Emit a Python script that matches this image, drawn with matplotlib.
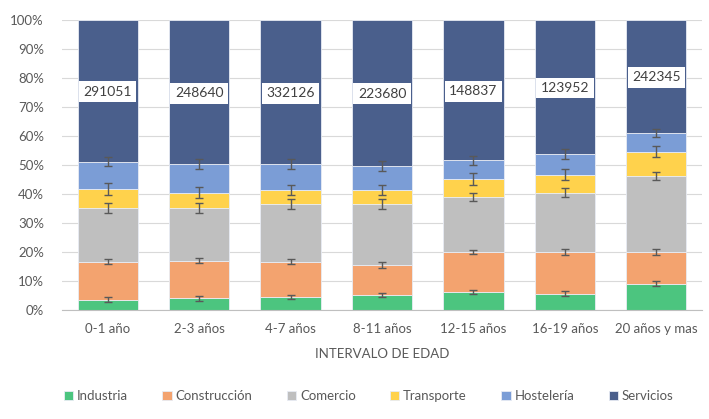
import matplotlib
matplotlib.use("Agg")
import matplotlib.pyplot as plt
import numpy as np
from matplotlib.ticker import PercentFormatter

plt.rcParams["font.family"] = ["Lato", "DejaVu Sans"]

# Data (percent share of each sector per age interval)
categories = ["0-1 año", "2-3 años", "4-7 años", "8-11 años", "12-15 años", "16-19 años", "20 años y mas"]
sectors = ["Industria", "Construcción", "Comercio", "Transporte", "Hostelería", "Servicios"]

industria = [3.6, 4.0, 4.5, 5.2, 6.2, 5.6, 9.1]
construccion = [13.1, 13.0, 12.2, 10.4, 13.8, 14.4, 10.9]
comercio = [18.5, 18.2, 19.9, 21.0, 18.9, 20.5, 26.3]
transporte = [6.5, 5.3, 4.8, 4.8, 6.2, 6.2, 8.3]
hosteleria = [9.4, 9.8, 8.9, 8.3, 6.5, 7.1, 6.5]
servicios = [48.9, 49.7, 49.7, 50.3, 48.4, 46.2, 38.9]

# Error bar half-widths at the top of each segment (percentage points)
err_industria = [0.75, 0.75, 0.75, 0.75, 0.85, 0.8, 0.9]
err_construccion = [0.8, 0.9, 0.9, 1.0, 0.8, 1.0, 0.9]
err_comercio = [1.6, 1.7, 1.7, 1.7, 1.4, 1.5, 1.4]
err_transporte = [2.0, 1.9, 1.8, 1.8, 2.0, 1.9, 2.0]
err_hosteleria = [1.6, 1.7, 1.8, 1.7, 1.6, 1.7, 1.4]

totals = ["291051", "248640", "332126", "223680", "148837", "123952", "242345"]

colors = ["#4cc57f", "#f3a36f", "#bfbfbf", "#ffd24c", "#7b9dd6", "#4a5f8c"]
series = [industria, construccion, comercio, transporte, hosteleria, servicios]
errors = [err_industria, err_construccion, err_comercio, err_transporte, err_hosteleria, None]

fig = plt.figure(figsize=(7.09, 4.19), dpi=100)
ax = fig.add_axes([62 / 709, 1 - 310 / 419, 640 / 709, 290 / 419])

x = np.arange(len(categories))
bottom = np.zeros(len(categories))
for name, vals, col, err in zip(sectors, series, colors, errors):
    vals = np.array(vals, dtype=float)
    ax.bar(x, vals, 0.66, bottom=bottom, color=col, label=name,
           edgecolor="#e8ecf4", linewidth=0.6, zorder=2)
    top = bottom + vals
    if err is not None:
        ax.errorbar(x, top, yerr=err, fmt="none", ecolor="#595959",
                    elinewidth=1, capsize=3, capthick=1, zorder=3)
    bottom = top

# total labels centred in the Servicios segment
serv_bottom = bottom - np.array(servicios)
for xi, lo, txt in zip(x, serv_bottom, totals):
    ax.text(xi, (lo + 100) / 2, txt, ha="center", va="center_baseline", fontsize=10,
            color="#404040", zorder=4,
            bbox=dict(boxstyle="square,pad=0.32", fc="white", ec="none"))

ax.set_xlim(-0.5, len(categories) - 0.5)
ax.set_ylim(0, 100)
ax.set_yticks(np.arange(0, 101, 10))
ax.yaxis.set_major_formatter(PercentFormatter(decimals=0))
ax.set_xticks(x)
ax.set_xticklabels(categories)
ax.tick_params(axis="both", length=0, labelsize=9.5, colors="#595959")
ax.tick_params(axis="x", pad=9)
ax.tick_params(axis="y", pad=13)
ax.grid(axis="y", color="#d9d9d9", lw=0.8, zorder=0)
ax.set_axisbelow(True)
for s in ["top", "right", "left"]:
    ax.spines[s].set_visible(False)
ax.spines["bottom"].set_color("#bfbfbf")
ax.set_xlabel("INTERVALO DE EDAD", fontsize=9.5, color="#595959", labelpad=10)

fig.legend(loc="center", bbox_to_anchor=(0.52, 1 - 396 / 419), ncol=6, frameon=False,
           fontsize=9.5, labelcolor="#595959", handlelength=0.7, handleheight=0.7,
           handletextpad=0.3, columnspacing=2.6)

fig.savefig("out.png", dpi=100)
